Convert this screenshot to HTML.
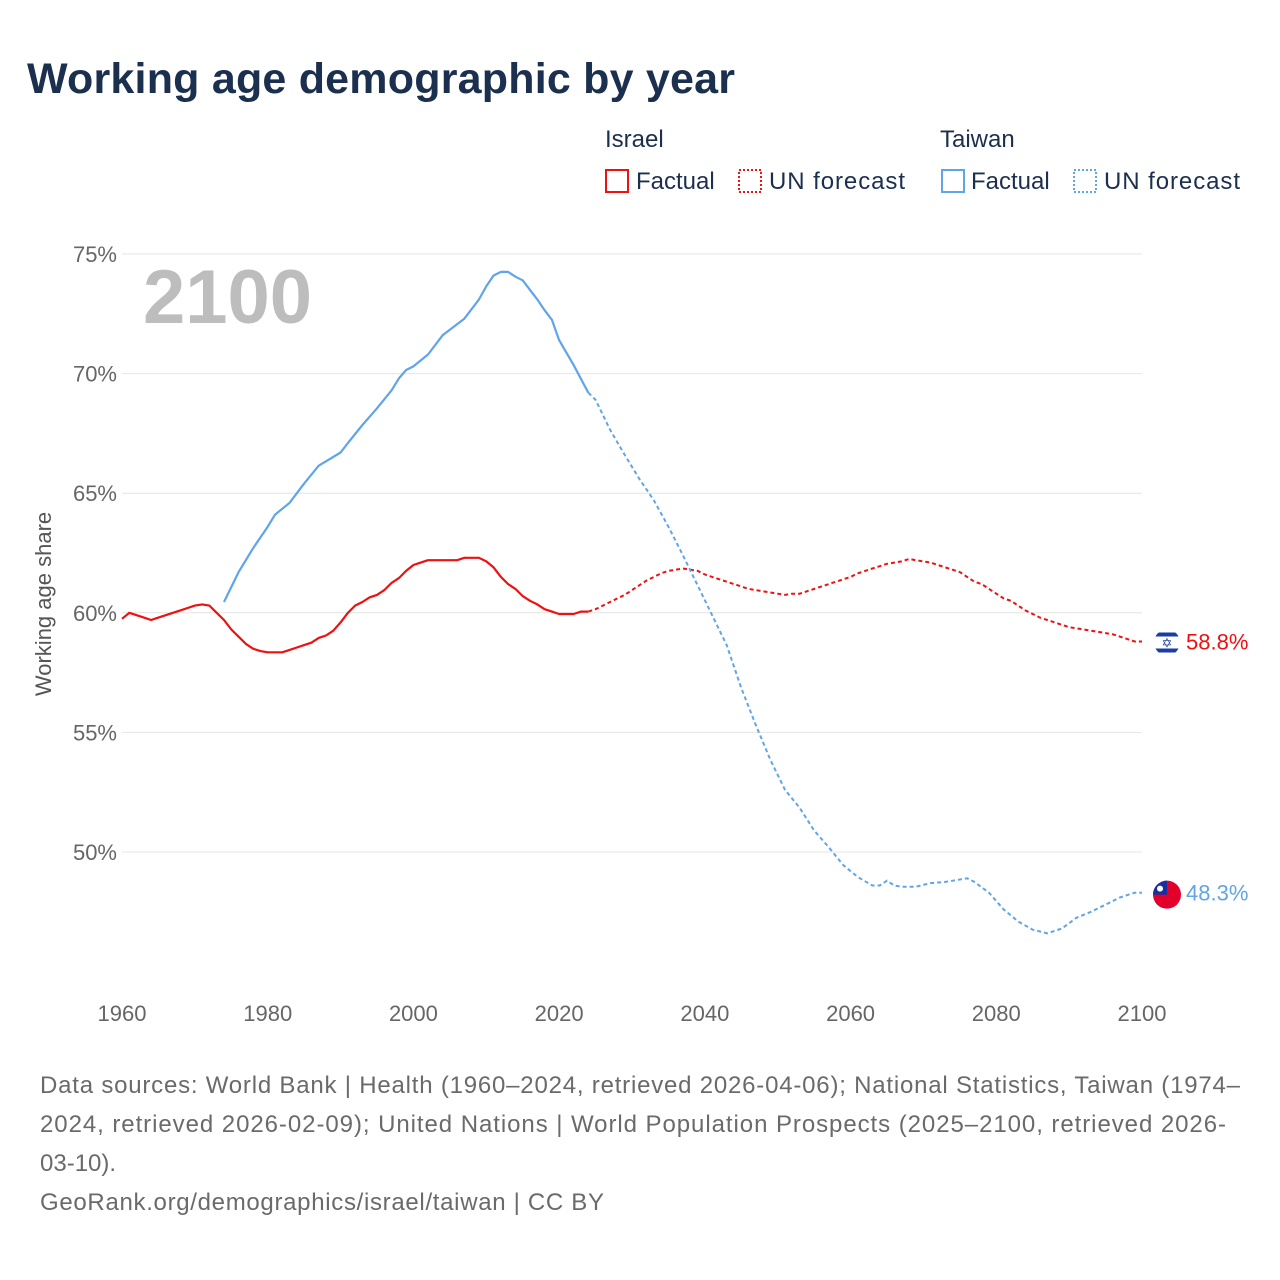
<!DOCTYPE html>
<html><head><meta charset="utf-8"><style>
body{margin:0;background:#fff;font-family:"Liberation Sans",sans-serif;}
#wrap{position:relative;width:1280px;height:1280px;overflow:hidden;}
</style></head><body>
<div id="wrap">
<svg id="chart" width="1280" height="1280" xmlns="http://www.w3.org/2000/svg">
<defs><clipPath id="ilclip"><circle cx="1167" cy="640" r="13"/></clipPath></defs>
<text x="27" y="93" font-size="43" font-weight="bold" fill="#1b2f4e" textLength="708">Working age demographic by year</text>
<g font-size="24" fill="#1b2f4e">
<text x="605" y="147">Israel</text>
<rect x="606" y="170" width="22" height="22" fill="none" stroke="#ee1111" stroke-width="2"/>
<text x="636" y="189">Factual</text>
<rect x="739" y="170" width="22" height="22" fill="none" stroke="#ee1111" stroke-width="2" stroke-dasharray="2,2"/>
<text x="769" y="189" textLength="136">UN forecast</text>
<text x="940" y="147">Taiwan</text>
<rect x="942" y="170" width="22" height="22" fill="none" stroke="#5fa5e8" stroke-width="2"/>
<text x="971" y="189">Factual</text>
<rect x="1074" y="170" width="22" height="22" fill="none" stroke="#5fa5e8" stroke-width="2" stroke-dasharray="2,2"/>
<text x="1104" y="189" textLength="136">UN forecast</text>
</g>
<g id="grid"></g>
<text x="143" y="323" font-size="76" font-weight="bold" fill="#bdbdbd">2100</text>
<text transform="translate(51,604) rotate(-90)" text-anchor="middle" font-size="22" fill="#555">Working age share</text>
<g id="series"></g>
<g font-size="24" fill="#6a6a6a">
<text x="40" y="1093" textLength="1200">Data sources: World Bank | Health (1960–2024, retrieved 2026-04-06); National Statistics, Taiwan (1974–</text>
<text x="40" y="1132" textLength="1186">2024, retrieved 2026-02-09); United Nations | World Population Prospects (2025–2100, retrieved 2026-</text>
<text x="40" y="1171">03-10).</text>
<text x="40" y="1210" textLength="564">GeoRank.org/demographics/israel/taiwan | CC BY</text>
</g>
</svg>
</div>
<script>
const yTicks=[50,55,60,65,70,75];
const xTicks=[1960,1980,2000,2020,2040,2060,2080,2100];
const israelYears=[1960,1961,1962,1963,1964,1965,1966,1967,1968,1969,1970,1971,1972,1973,1974,1975,1976,1977,1978,1979,1980,1981,1982,1983,1984,1985,1986,1987,1988,1989,1990,1991,1992,1993,1994,1995,1996,1997,1998,1999,2000,2001,2002,2003,2004,2005,2006,2007,2008,2009,2010,2011,2012,2013,2014,2015,2016,2017,2018,2019,2020,2021,2022,2023,2024,2025,2026,2027,2028,2029,2030,2031,2032,2033,2034,2035,2036,2037,2038,2039,2040,2041,2042,2043,2044,2045,2046,2047,2048,2049,2050,2051,2052,2053,2054,2055,2056,2057,2058,2059,2060,2061,2062,2063,2064,2065,2066,2067,2068,2069,2070,2071,2072,2073,2074,2075,2076,2077,2078,2079,2080,2081,2082,2083,2084,2085,2086,2087,2088,2089,2090,2091,2092,2093,2094,2095,2096,2097,2098,2099,2100];
const israelValues=[59.75,60.0,59.9,59.8,59.7,59.8,59.9,60.0,60.1,60.2,60.3,60.35,60.3,60.0,59.7,59.3,59.0,58.7,58.5,58.4,58.35,58.35,58.35,58.45,58.55,58.65,58.75,58.95,59.05,59.25,59.6,60.0,60.3,60.45,60.65,60.75,60.95,61.25,61.45,61.75,62.0,62.1,62.2,62.2,62.2,62.2,62.2,62.3,62.3,62.3,62.15,61.9,61.5,61.2,61.0,60.7,60.5,60.35,60.15,60.05,59.95,59.95,59.95,60.05,60.05,60.15,60.3,60.45,60.6,60.75,60.95,61.15,61.35,61.5,61.65,61.75,61.8,61.85,61.8,61.75,61.6,61.5,61.4,61.3,61.2,61.1,61.0,60.95,60.9,60.85,60.8,60.75,60.8,60.8,60.9,61.0,61.1,61.2,61.3,61.4,61.5,61.65,61.75,61.85,61.95,62.05,62.1,62.15,62.25,62.2,62.15,62.1,62.0,61.9,61.8,61.7,61.5,61.3,61.2,61.0,60.8,60.6,60.5,60.3,60.1,59.95,59.8,59.7,59.6,59.5,59.4,59.35,59.3,59.25,59.2,59.15,59.1,59.0,58.9,58.8,58.8];
const taiwanYears=[1974,1976,1978,1980,1981,1983,1985,1987,1990,1991,1993,1995,1997,1998,1999,2000,2002,2004,2007,2009,2010,2011,2012,2013,2014,2015,2016,2017,2018,2019,2020,2022,2024,2025,2027,2029,2031,2033,2035,2037,2039,2041,2043,2045,2047,2049,2051,2053,2055,2057,2059,2061,2063,2064,2065,2066,2067,2069,2071,2073,2075,2076,2077,2079,2081,2083,2085,2087,2089,2091,2093,2095,2097,2099,2100];
const taiwanValues=[60.45,61.7,62.7,63.6,64.1,64.6,65.4,66.15,66.7,67.1,67.85,68.55,69.3,69.8,70.15,70.3,70.8,71.6,72.3,73.1,73.65,74.1,74.25,74.25,74.05,73.9,73.5,73.1,72.65,72.25,71.4,70.35,69.2,68.9,67.65,66.6,65.6,64.7,63.6,62.4,61.15,59.9,58.65,56.85,55.3,53.85,52.6,51.85,50.9,50.2,49.45,48.95,48.6,48.6,48.8,48.6,48.55,48.55,48.7,48.75,48.85,48.9,48.75,48.3,47.6,47.1,46.75,46.6,46.8,47.25,47.5,47.8,48.1,48.3,48.3];
const lastFactual=2024;
const NS='http://www.w3.org/2000/svg';
const X=y=>122+(y-1960)*(1020/140);
const Y=v=>852-(v-50)*(598/25);
const grid=document.getElementById('grid');
function mk(tag,attrs,parent){const e=document.createElementNS(NS,tag);for(const k in attrs)e.setAttribute(k,attrs[k]);parent.appendChild(e);return e;}
yTicks.forEach(t=>{
  const l=mk('line',{x1:122,x2:1142,y1:Y(t),y2:Y(t),stroke:'#e4e4e4','stroke-width':1},grid);
  
  
  const tx=mk('text',{x:117,y:Y(t)+8,'text-anchor':'end','font-size':22,fill:'#666'},grid);
  tx.textContent=t+'%';
  
  
});
xTicks.forEach(t=>{
  const tx=mk('text',{x:X(t),y:1021,'text-anchor':'middle','font-size':22,fill:'#666'},grid);
  tx.textContent=t;
  
  
});
const S=document.getElementById('series');
function draw(years,vals,color,name){
  const f=[],p=[];
  years.forEach((yr,i)=>{const pt=X(yr).toFixed(1)+','+Y(vals[i]).toFixed(1);if(yr<=lastFactual)f.push(pt);if(yr>=lastFactual)p.push(pt);});
  const a=mk('polyline',{points:f.join(' '),fill:'none',stroke:color,'stroke-width':2.2,'stroke-linejoin':'round'},S);
  
  
  const b=mk('polyline',{points:p.join(' '),fill:'none',stroke:color,'stroke-width':2,'stroke-dasharray':'4,3'},S);
  
  
}
draw(israelYears,israelValues,'#ee1111','israel');
draw(taiwanYears,taiwanValues,'#5fa5e8','taiwan');
const iv=israelValues[israelValues.length-1], tv=taiwanValues[taiwanValues.length-1];
const iy=Y(iv)+1;
const fi=mk('g',{'clip-path':'url(#ilclip)'},S);


document.querySelector('#ilclip circle').setAttribute('cy',iy);
mk('circle',{cx:1167,cy:iy,r:13,fill:'#fff'},fi);
mk('rect',{x:1150,y:iy-10,width:34,height:4,fill:'#1a3fa0'},fi);
mk('rect',{x:1150,y:iy+6,width:34,height:4,fill:'#1a3fa0'},fi);
mk('text',{x:1167,y:iy+5,'text-anchor':'middle','font-size':13,fill:'#1a3fa0'},fi).textContent='✡';
const ft=mk('g',{},S);


const ty=Y(tv)+2;
mk('circle',{cx:1167,cy:ty,r:14,fill:'#e3002b'},ft);
mk('path',{d:`M1153,${ty} A14,14 0 0 1 1167,${ty-14} L1167,${ty} Z`,fill:'#1530a0'},ft);
mk('circle',{cx:1160,cy:ty-6,r:3,fill:'#fff'},ft);
const li=mk('text',{x:1186,y:Y(iv)+8,'font-size':22,fill:'#ee1111'},S);
li.textContent=iv.toFixed(1)+'%';


const lt=mk('text',{x:1186,y:Y(tv)+8,'font-size':22,fill:'#5fa5e8'},S);
lt.textContent=tv.toFixed(1)+'%';


</script>
</body></html>
